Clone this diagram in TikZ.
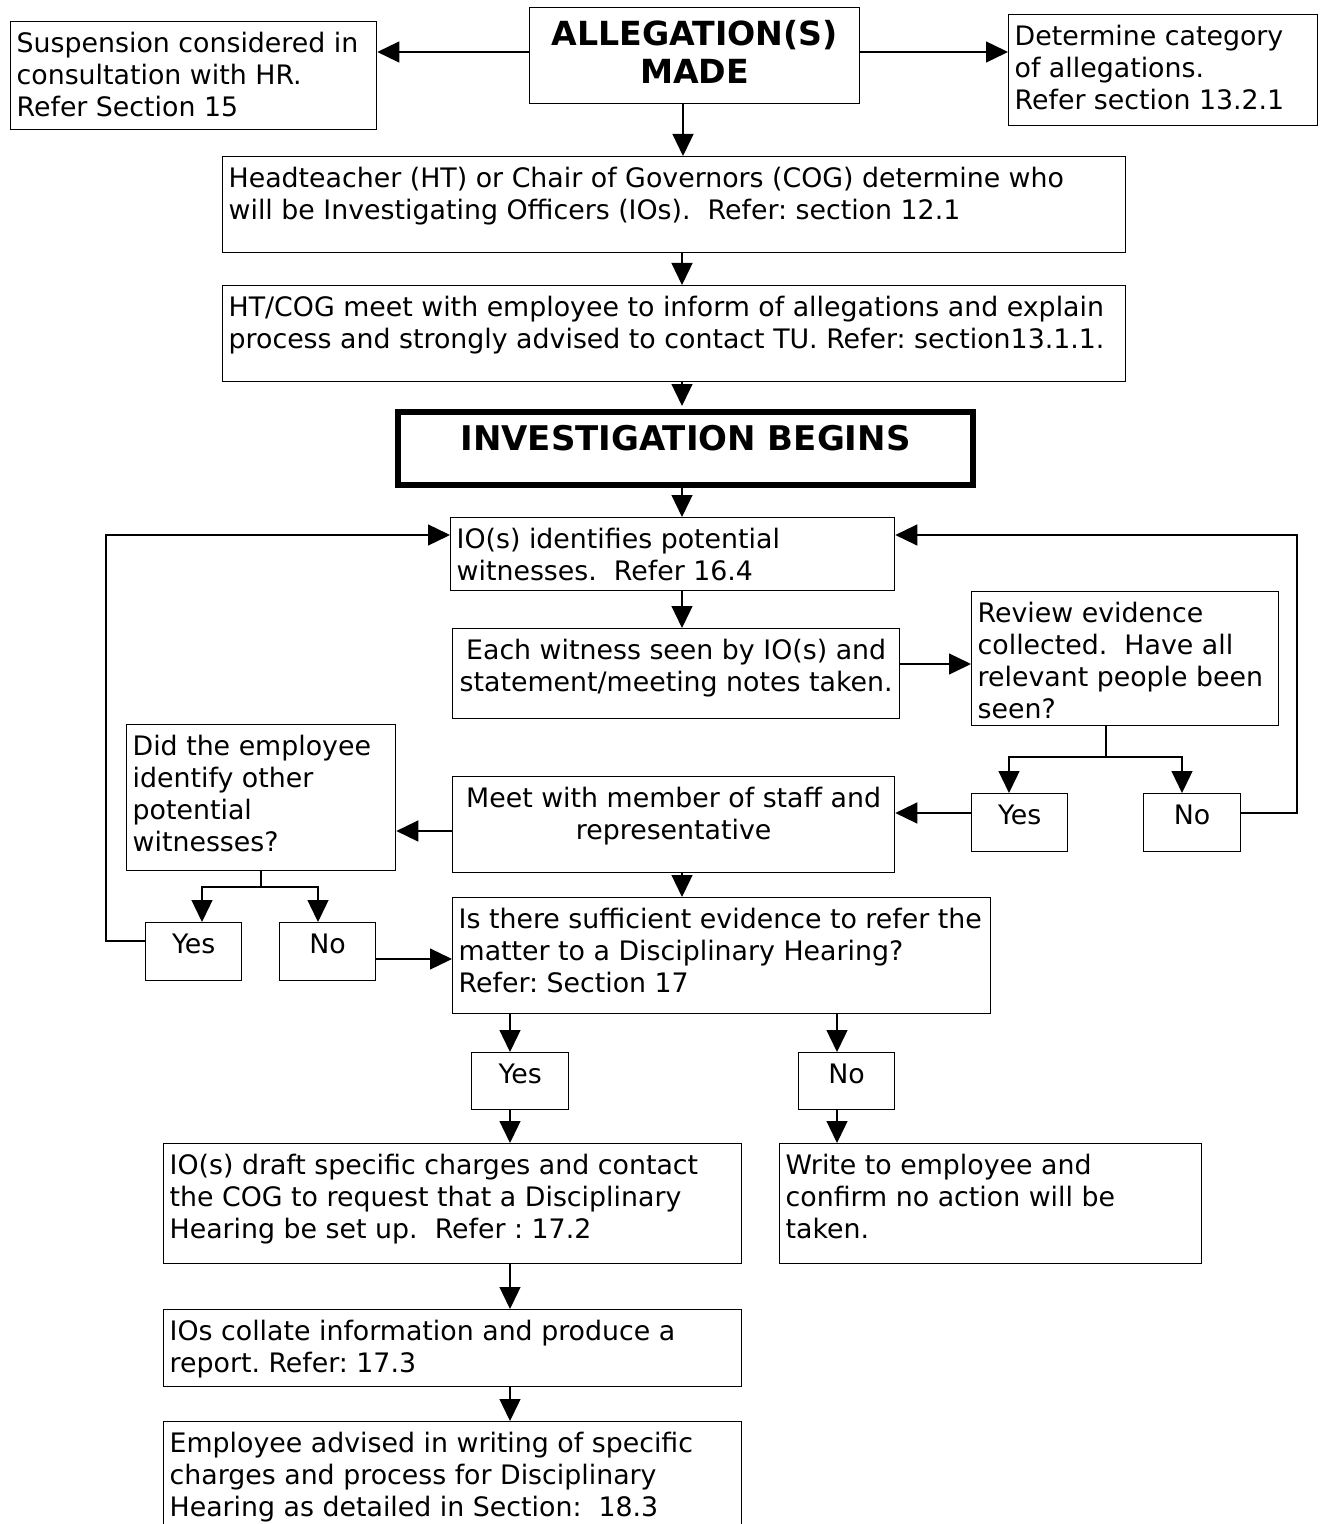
\documentclass[tikz,border=0pt]{standalone}
\usepackage{fontspec}
\setmainfont{DejaVu Sans}
\usetikzlibrary{arrows.meta}
\newlength\pxu \setlength\pxu{0.5pt}
\newcommand\fl{\rule{0pt}{31\pxu}}
\tikzset{
 box/.style={draw, line width=0.65pt, inner sep=0pt, anchor=north west, font=\fontsize{13.4}{16}\selectfont\frenchspacing},
 thickbox/.style={box, line width=3pt},
 arr/.style={-{Triangle[length=11pt,width=10.5pt]}, line width=0.65pt},
 ln/.style={line width=0.65pt},
}
% left aligned box: name, x, y, w, h, text
\newcommand\bxl[6]{\node[box] (#1) at (#2,#3) {\parbox[c][#5\pxu][t]{#4\pxu}{\leftskip=6\pxu\rightskip=-200pt plus 1fil\parfillskip=0pt\fl #6}};}
% centred box
\newcommand\bxc[6]{\node[box] (#1) at (#2,#3) {\parbox[c][#5\pxu][t]{#4\pxu}{\centering\fl #6}};}
\begin{document}
\begin{tikzpicture}[x=0.5pt,y=-0.5pt]
\fill[white] (0,0) rectangle (1322,1524);
\useasboundingbox (0,0) rectangle (1322,1524);
\clip (0,0) rectangle (1322,1524);

\node[box] (alleg) at (529,7) {\parbox[c][96\pxu][t]{330\pxu}{\centering\fontsize{16.6}{19}\selectfont\bfseries\rule{0pt}{38\pxu}ALLEGATION(S)\\MADE}};
\bxl{susp}{10}{21}{366}{108}{Suspension considered in\\consultation with HR.\\Refer Section 15}
\bxl{detcat}{1008}{14}{309}{111}{Determine category\\of allegations.\\Refer section 13.2.1}
\bxl{ht}{222}{156}{903}{96}{Headteacher (HT) or Chair of Governors (COG) determine who\\will be Investigating Officers (IOs).\ \ Refer: section 12.1}
\bxl{htcog}{222}{285}{903}{96}{HT/COG meet with employee to inform of allegations and explain\\process and strongly advised to contact TU. Refer: section13.1.1.}
\node[thickbox] (invest) at (395,409) {\parbox[c][73\pxu][t]{575\pxu}{\centering\fontsize{17}{19}\selectfont\bfseries\rule{0pt}{38\pxu}INVESTIGATION BEGINS}};
\bxl{iden}{450}{517}{444}{73}{IO(s) identifies potential\\witnesses.\ \ Refer 16.4}
\bxc{each}{452}{628}{447}{90}{Each witness seen by IO(s) and\\statement/meeting notes taken.}
\bxl{review}{971}{591}{307}{134}{Review evidence\\collected.\ \ Have all\\relevant people been\\seen?}
\bxc{yesR}{971}{793}{96}{58}{Yes}
\bxc{noR}{1143}{793}{97}{58}{No}
\bxc{meet}{452}{776}{442}{96}{Meet with member of staff and\\representative}
\bxl{did}{126}{724}{269}{146}{Did the employee\\identify other\\potential\\witnesses?}
\bxc{yesL}{145}{922}{96}{58}{Yes}
\bxc{noL}{279}{922}{96}{58}{No}
\bxl{isth}{452}{897}{538}{116}{Is there sufficient evidence to refer the\\matter to a Disciplinary Hearing?\\Refer: Section 17}
\bxc{yesB}{471}{1052}{97}{57}{Yes}
\bxc{noB}{798}{1052}{96}{57}{No}
\bxl{draft}{163}{1143}{578}{120}{IO(s) draft specific charges and contact\\the COG to request that a Disciplinary\\Hearing be set up.\ \ Refer : 17.2}
\bxl{write}{779}{1143}{422}{120}{Write to employee and\\confirm no action will be\\taken.}
\bxl{collate}{163}{1309}{578}{77}{IOs collate information and produce a\\report. Refer: 17.3}
\bxl{employee}{163}{1421}{578}{140}{Employee advised in writing of specific\\charges and process for Disciplinary\\Hearing as detailed in Section:\ \ 18.3}

% connectors
\draw[arr] (alleg.west |- 0,52) -- (susp.east |- 0,52);
\draw[arr] (alleg.east |- 0,52) -- (detcat.west |- 0,52);
\draw[arr] (alleg.south -| 683,0) -- (ht.north -| 683,0);
\draw[arr] (ht.south -| 682,0) -- (htcog.north -| 682,0);
\draw[arr, shorten >=1.5pt] (htcog.south -| 682,0) -- (invest.north -| 682,0);
\draw[arr] (invest.south -| 682,0) -- (iden.north -| 682,0);
\draw[arr] (iden.south -| 682,0) -- (each.north -| 682,0);
\draw[arr] (each.east |- 0,664) -- (review.west |- 0,664);
\coordinate (rj) at (1106,757);
\draw[ln] (review.south -| rj) -- (rj);
\draw[arr] (rj) -| (yesR.north -| 1009,0);
\draw[arr] (rj) -| (noR.north -| 1182,0);
\draw[arr] (yesR.west |- 0,813) -- (meet.east |- 0,813);
\coordinate (rl) at (1297,535);
\draw[arr] (noR.east |- 0,813) -| (rl) -- (iden.east |- rl);
\draw[arr] (meet.west |- 0,831) -- (did.east |- 0,831);
\coordinate (dj) at (261,887);
\draw[ln] (did.south -| dj) -- (dj);
\draw[arr] (dj) -| (yesL.north -| 202,0);
\draw[arr] (dj) -| (noL.north -| 318,0);
\coordinate (ll) at (106,535);
\draw[arr] (yesL.west |- 0,941) -| (ll) -- (iden.west |- ll);
\draw[arr] (noL.east |- 0,959) -- (isth.west |- 0,959);
\draw[arr] (meet.south -| 682,0) -- (isth.north -| 682,0);
\draw[arr] (isth.south -| 510,0) -- (yesB.north -| 510,0);
\draw[arr] (isth.south -| 837,0) -- (noB.north -| 837,0);
\draw[arr] (yesB.south -| 510,0) -- (draft.north -| 510,0);
\draw[arr] (noB.south -| 837,0) -- (write.north -| 837,0);
\draw[arr] (draft.south -| 510,0) -- (collate.north -| 510,0);
\draw[arr] (collate.south -| 510,0) -- (employee.north -| 510,0);
\end{tikzpicture}
\end{document}
